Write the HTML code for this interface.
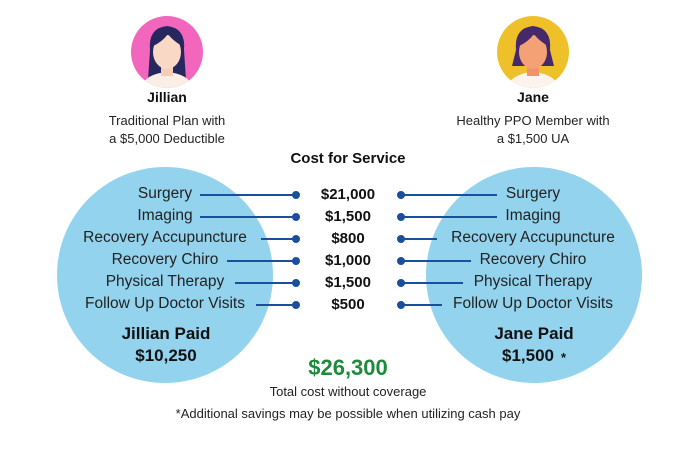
<!DOCTYPE html>
<html><head><style>
body{margin:0;background:#fff;}
text{font-family:"Liberation Sans",sans-serif;}
</style></head><body>
<svg width="697" height="450" viewBox="0 0 697 450" xmlns="http://www.w3.org/2000/svg">
<defs>
<clipPath id="c1"><circle cx="167" cy="52" r="36"/></clipPath>
<clipPath id="c2"><circle cx="533" cy="52" r="36"/></clipPath>
</defs>
<circle cx="167" cy="52" r="36" fill="#f266bd"/>
<g clip-path="url(#c1)">
<path d="M150 50 Q148 28 167 26 Q186 28 184 50 L186 80 L148 80 Z" fill="#25275e"/>
<path d="M140 92 Q142 74 167 72 Q192 74 194 92 Z" fill="#fbeee6"/>
<rect x="161" y="62" width="12" height="14" fill="#f6cdb7"/>
<ellipse cx="167" cy="52" rx="14" ry="17" fill="#f9d8c6"/>
<path d="M153 46 Q155 30 167 31 Q180 31 182 46 Q172 40 168 34 Q162 42 153 46Z" fill="#25275e"/>
</g>
<circle cx="533" cy="52" r="36" fill="#eec12b"/>
<g clip-path="url(#c2)">
<path d="M516 50 Q514 28 533 26 Q552 28 550 50 L554 66 L512 66 Z" fill="#47286b"/>
<path d="M506 92 Q508 74 533 72 Q558 74 560 92 Z" fill="#fbf3ec"/>
<rect x="527" y="62" width="12" height="14" fill="#f0926a"/>
<ellipse cx="533" cy="52" rx="14" ry="17" fill="#f5a176"/>
<path d="M519 46 Q521 30 533 31 Q546 31 548 46 Q538 40 534 34 Q528 42 519 46Z" fill="#47286b"/>
</g>
<text x="167" y="102" font-size="14" font-weight="bold" text-anchor="middle" fill="#111">Jillian</text>
<text x="533" y="102" font-size="14" font-weight="bold" text-anchor="middle" fill="#111">Jane</text>
<g font-size="13" text-anchor="middle" fill="#222">
<text x="167" y="125">Traditional Plan with</text>
<text x="167" y="143">a $5,000 Deductible</text>
<text x="533" y="125">Healthy PPO Member with</text>
<text x="533" y="143">a $1,500 UA</text>
</g>
<text x="348" y="163" font-size="15" font-weight="bold" text-anchor="middle" fill="#111">Cost for Service</text>
<ellipse cx="165" cy="275" rx="108" ry="108" fill="#93d3ee"/>
<ellipse cx="534" cy="275" rx="108" ry="108" fill="#93d3ee"/>
<g stroke="#1a4f9c" stroke-width="2">
<line x1="200" y1="195" x2="296" y2="195"/><line x1="200" y1="217" x2="296" y2="217"/>
<line x1="261" y1="239" x2="296" y2="239"/><line x1="227" y1="261" x2="296" y2="261"/>
<line x1="235" y1="283" x2="296" y2="283"/><line x1="256" y1="305" x2="296" y2="305"/>
<line x1="401" y1="195" x2="497" y2="195"/><line x1="401" y1="217" x2="497" y2="217"/>
<line x1="401" y1="239" x2="437" y2="239"/><line x1="401" y1="261" x2="471" y2="261"/>
<line x1="401" y1="283" x2="463" y2="283"/><line x1="401" y1="305" x2="442" y2="305"/>
</g>
<g fill="#1a4f9c">
<circle cx="296" cy="195" r="4"/><circle cx="296" cy="217" r="4"/><circle cx="296" cy="239" r="4"/>
<circle cx="296" cy="261" r="4"/><circle cx="296" cy="283" r="4"/><circle cx="296" cy="305" r="4"/>
<circle cx="401" cy="195" r="4"/><circle cx="401" cy="217" r="4"/><circle cx="401" cy="239" r="4"/>
<circle cx="401" cy="261" r="4"/><circle cx="401" cy="283" r="4"/><circle cx="401" cy="305" r="4"/>
</g>
<g font-size="15.5" text-anchor="middle" fill="#222">
<text x="165" y="198">Surgery</text><text x="165" y="220">Imaging</text>
<text x="165" y="242">Recovery Accupuncture</text><text x="165" y="264">Recovery Chiro</text>
<text x="165" y="286">Physical Therapy</text><text x="165" y="308">Follow Up Doctor Visits</text>
<text x="533" y="198">Surgery</text><text x="533" y="220">Imaging</text>
<text x="533" y="242">Recovery Accupuncture</text><text x="533" y="264">Recovery Chiro</text>
<text x="533" y="286">Physical Therapy</text><text x="533" y="308">Follow Up Doctor Visits</text>
</g>
<g font-size="15" font-weight="bold" text-anchor="middle" fill="#111">
<text x="348" y="199">$21,000</text><text x="348" y="221">$1,500</text><text x="348" y="243">$800</text>
<text x="348" y="265">$1,000</text><text x="348" y="287">$1,500</text><text x="348" y="309">$500</text>
</g>
<g font-size="17" font-weight="bold" text-anchor="middle" fill="#111">
<text x="166" y="339">Jillian Paid</text><text x="166" y="361">$10,250</text>
<text x="534" y="339">Jane Paid</text><text x="528" y="361">$1,500</text>
</g>
<text x="561" y="362" font-size="13" font-weight="bold" fill="#111">*</text>
<text x="348" y="375" font-size="22" font-weight="bold" text-anchor="middle" fill="#1d8a3c">$26,300</text>
<text x="348" y="396" font-size="13" text-anchor="middle" fill="#222">Total cost without coverage</text>
<text x="348" y="418" font-size="13" text-anchor="middle" fill="#222">*Additional savings may be possible when utilizing cash pay</text>
</svg>
</body></html>
